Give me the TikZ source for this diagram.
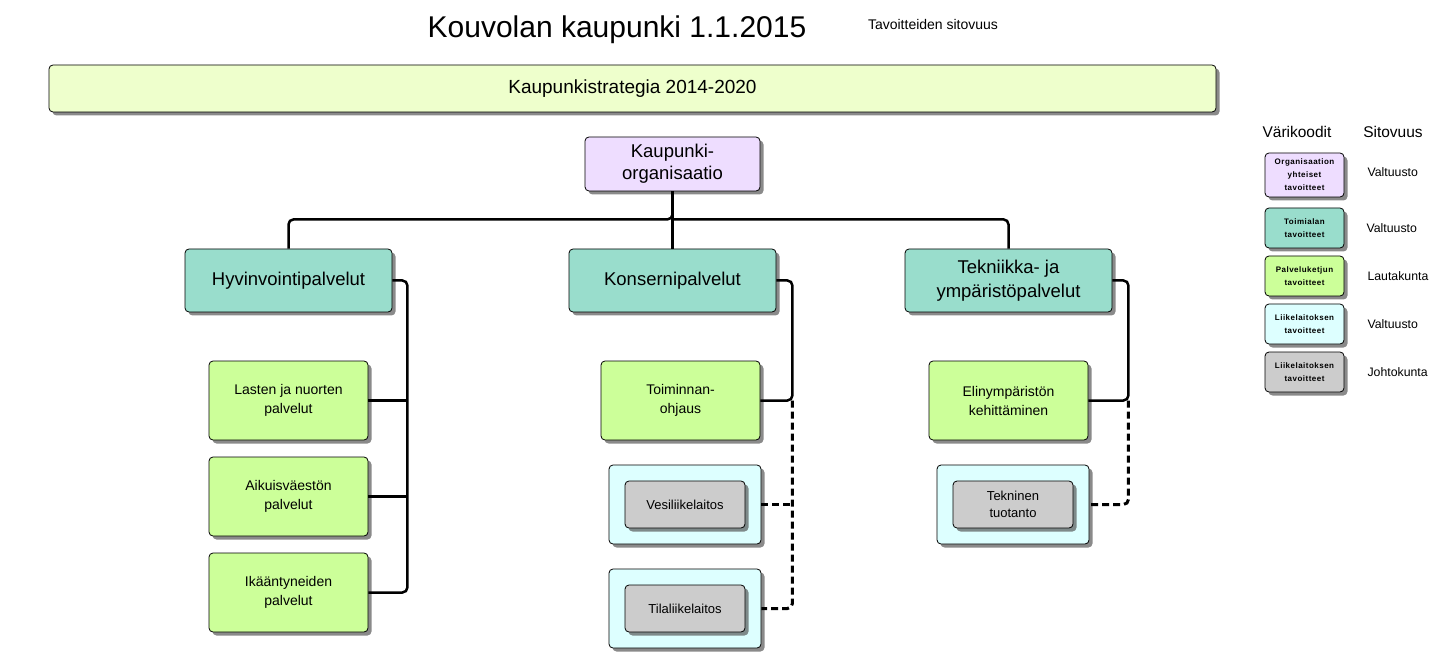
\documentclass[tikz,border=0pt]{standalone}
\usepackage{fontspec}
\setmainfont{Liberation Sans}
\usetikzlibrary{shadows,calc}
\definecolor{cteal}{HTML}{99DDCC}
\definecolor{cgreen}{HTML}{CCFF99}
\definecolor{ccyan}{HTML}{DDFFFF}
\definecolor{cgray}{HTML}{CCCCCC}
\definecolor{clav}{HTML}{EEDDFF}
\definecolor{cstrat}{HTML}{EEFFCC}
\begin{document}
\begin{tikzpicture}[x=1pt,y=-1pt,
  box/.style={draw=black, line width=0.8pt, rounded corners=4pt, align=center, inner sep=0pt,
    drop shadow={shadow xshift=3.5pt, shadow yshift=-3.5pt, opacity=0.65, fill=black!70}},
  big/.style={box, minimum width=207pt, minimum height=63pt, fill=cteal, font=\fontsize{18.5}{24}\selectfont},
  sub/.style={box, minimum width=159pt, minimum height=79pt, fill=cgreen, font=\fontsize{14}{19}\selectfont},
  outer/.style={box, minimum width=152pt, minimum height=79pt, fill=ccyan},
  inner/.style={box, minimum width=120pt, minimum height=47pt, fill=cgray, font=\fontsize{13}{17}\selectfont},
  leg/.style={box, minimum width=79pt, font=\fontsize{8}{13}\selectfont\bfseries\addfontfeature{LetterSpace=6}},
  legtxt/.style={font=\fontsize{12.3}{14}\selectfont, anchor=west},
  conn/.style={line width=2.5pt, rounded corners=5pt},
  dconn/.style={line width=3pt, rounded corners=5pt, dash pattern=on 7pt off 4pt}]
\useasboundingbox (0,0) rectangle (1443,668);

\node (title) at (617,30) {\fontsize{30}{34}\selectfont Kouvolan kaupunki 1.1.2015};
\node (sit) at (933,24) {\fontsize{14}{16}\selectfont Tavoitteiden sitovuus};

\node[box, fill=cstrat, minimum width=1167pt, minimum height=47pt, font=\fontsize{19}{22}\selectfont] (strat) at (632.5,88.5) {Kaupunkistrategia 2014-2020};

\node[box, fill=clav, minimum width=175pt, minimum height=54pt, font=\fontsize{18.5}{22}\selectfont] (org) at (672.5,164) {Kaupunki-\\organisaatio};

\node[big] (hyv) at (288.5,280.5) {Hyvinvointipalvelut};
\node[big] (kon) at (672.5,280.5) {Konsernipalvelut};
\node[big] (tek) at (1008.5,280.5) {Tekniikka- ja\\ympäristöpalvelut};

\node[sub] (las) at (288.5,400.5) {Lasten ja nuorten\\palvelut};
\node[sub] (aik) at (288.5,496.5) {Aikuisväestön\\palvelut};
\node[sub] (ika) at (288.5,592.5) {Ikääntyneiden\\palvelut};
\node[sub] (toim) at (680.5,400.5) {Toiminnan-\\ohjaus};
\node[sub] (elin) at (1008.5,400.5) {Elinympäristön\\kehittäminen};

\node[outer] (vesio) at (685,504.5) {};
\node[inner] (vesi) at (685,504.5) {Vesiliikelaitos};
\node[outer] (tilao) at (685,608.5) {};
\node[inner] (tila) at (685,608.5) {Tilaliikelaitos};
\node[outer] (tekno) at (1013,504.5) {};
\node[inner] (tekn) at (1013,504.5) {Tekninen\\tuotanto};

% connectors
\draw[conn] (hyv.north) |- ($(org.south)+(0,28)$) -- (org.south);
\draw[conn] (tek.north) |- ($(org.south)+(0,28)$);
\draw[conn] (org.south) -- (kon.north);

\draw[conn] (hyv.east) -- ++(15,0) |- (ika.east);
\draw[conn] (las.east) -- ++(39,0);
\draw[conn] (aik.east) -- ++(39,0);

\draw[conn] (kon.east) -- ++(16,0) |- (toim.east);
\draw[dconn] ($(toim.east)+(32,0)$) |- (tilao.east);
\draw[dconn] (vesio.east) -- ++(31,0);

\draw[conn] (tek.east) -- ++(16,0) |- (elin.east);
\draw[dconn] ($(elin.east)+(40,0)$) |- (tekno.east);

% legend
\node[font=\fontsize{15.5}{18}\selectfont] (lh1) at (1297,132) {Värikoodit};
\node[font=\fontsize{15.5}{18}\selectfont] (lh2) at (1393,132) {Sitovuus};
\node[leg, fill=clav, minimum height=44pt] (l1) at (1304.5,175) {Organisaation\\yhteiset\\tavoitteet};
\node[leg, fill=cteal, minimum height=40pt] (l2) at (1304.5,228) {Toimialan\\tavoitteet};
\node[leg, fill=cgreen, minimum height=40pt] (l3) at (1304.5,276) {Palveluketjun\\tavoitteet};
\node[leg, fill=ccyan, minimum height=40pt] (l4) at (1304.5,324) {Liikelaitoksen\\tavoitteet};
\node[leg, fill=cgray, minimum height=40pt] (l5) at (1304.5,372) {Liikelaitoksen\\tavoitteet};
\node[legtxt] (s1) at (1364,172) {Valtuusto};
\node[legtxt] (s2) at (1363,228) {Valtuusto};
\node[legtxt] (s3) at (1364,276) {Lautakunta};
\node[legtxt] (s4) at (1364,324) {Valtuusto};
\node[legtxt] (s5) at (1364,372) {Johtokunta};
\end{tikzpicture}
\end{document}
